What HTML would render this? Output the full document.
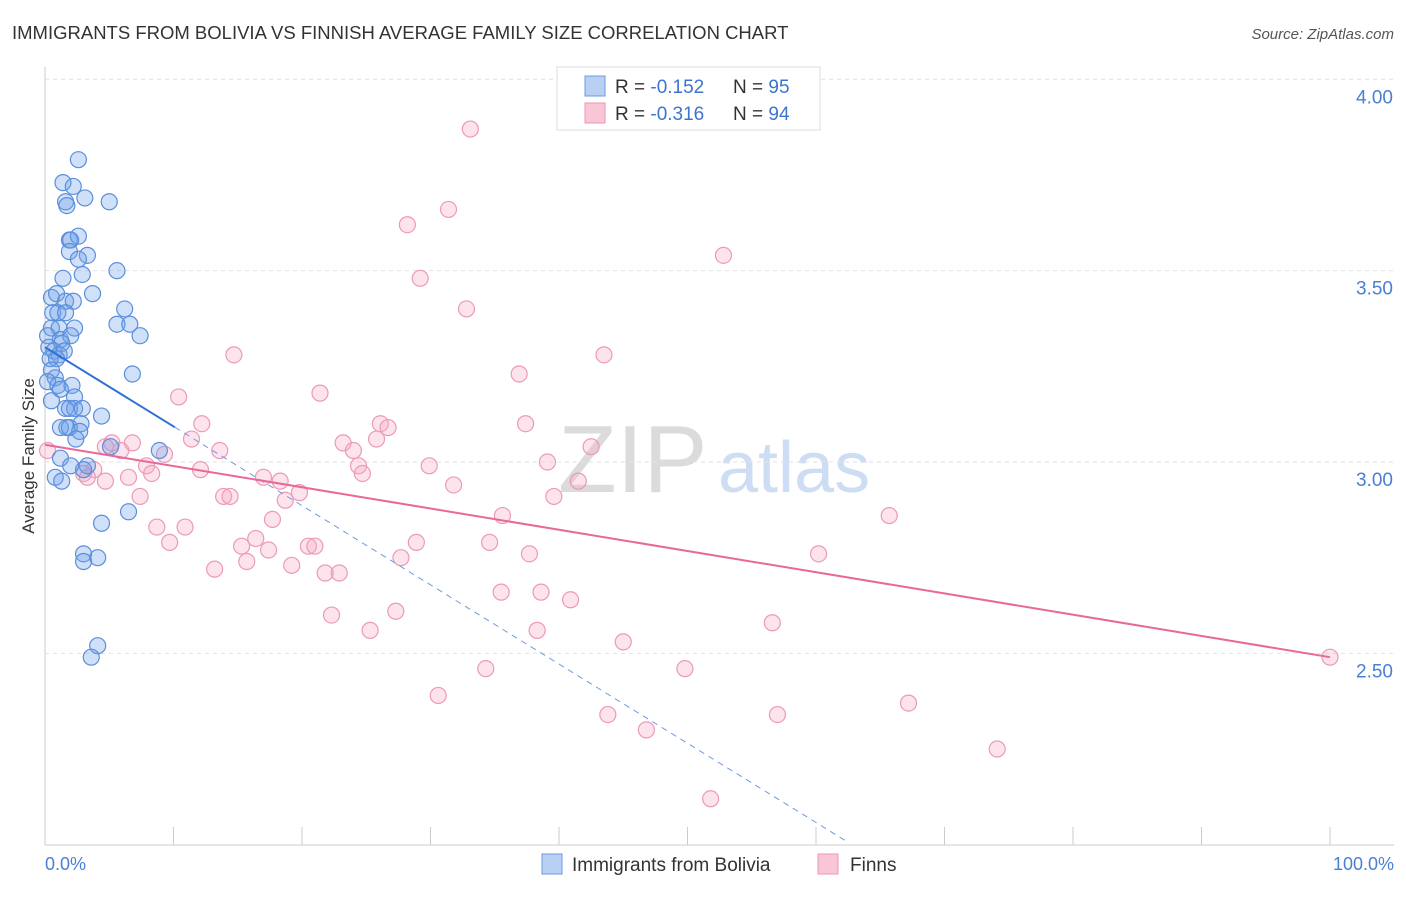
<!DOCTYPE html>
<html><head><meta charset="utf-8"><style>
body{margin:0;background:#fff;font-family:"Liberation Sans",sans-serif;}
svg text{font-family:"Liberation Sans",sans-serif;}
</style></head><body>
<svg id="chart" width="1406" height="892" viewBox="0 0 1406 892">
<text x="12" y="39" font-size="18.5" fill="#333">IMMIGRANTS FROM BOLIVIA VS FINNISH AVERAGE FAMILY SIZE CORRELATION CHART</text>
<text x="1394" y="39" font-size="15" fill="#555" text-anchor="end" font-style="italic">Source: ZipAtlas.com</text>
<g>
<text x="558" y="492" font-size="96" fill="#cfcfcf" font-family="Liberation Serif,serif" opacity="0.75">ZIP</text>
<text x="718" y="492" font-size="72" fill="#b3cbee" opacity="0.65">atlas</text>
</g>
<g id="grid"></g>
<g id="marks"></g>
<text transform="translate(34,456) rotate(-90)" font-size="17" fill="#333" text-anchor="middle">Average Family Size</text>
<text x="45" y="870" font-size="18" fill="#4a7fd4">0.0%</text>
<text x="1394" y="870" font-size="18" fill="#4a7fd4" text-anchor="end">100.0%</text>
<g>
<rect x="557" y="67" width="263" height="63" fill="#fff" stroke="#ddd"/>
<rect x="585" y="76" width="20" height="20" fill="#b7d0f4" stroke="#6f9be0"/>
<rect x="585" y="103" width="20" height="20" fill="#f9c6d6" stroke="#ec96b4"/>
<text x="615" y="93" font-size="19" fill="#333">R = <tspan fill="#3d74d0">-0.152</tspan></text>
<text x="733" y="93" font-size="19" fill="#333">N = <tspan fill="#3d74d0">95</tspan></text>
<text x="615" y="120" font-size="19" fill="#333">R = <tspan fill="#3d74d0">-0.316</tspan></text>
<text x="733" y="120" font-size="19" fill="#333">N = <tspan fill="#3d74d0">94</tspan></text>
</g>
<g>
<rect x="542" y="854" width="20" height="20" fill="#b7d0f4" stroke="#6f9be0"/>
<text x="572" y="871" font-size="19" fill="#333">Immigrants from Bolivia</text>
<rect x="818" y="854" width="20" height="20" fill="#f9c6d6" stroke="#ec96b4"/>
<text x="850" y="871" font-size="19" fill="#333">Finns</text>
</g>
</svg>
<script>
const yTicks=[2.5,3.0,3.5,4.0];
const yTickLabels=["2.50","3.00","3.50","4.00"];
const xTicks=[0,10,20,30,40,50,60,70,80,90,100];
const blueX=[2.6,1.4,2.2,3.1,1.6,1.7,5.0,1.9,2.0,2.6,3.3,1.9,2.6,5.6,1.4,2.9,3.7,0.5,0.9,1.6,2.2,6.2,0.6,1.0,1.6,5.6,6.6,0.5,1.1,2.3,0.2,1.2,2.0,7.4,1.3,0.3,0.7,1.1,1.5,0.4,0.9,6.8,0.5,0.8,0.2,1.0,2.1,1.2,0.5,2.3,1.6,2.3,1.9,2.9,4.4,1.2,1.7,1.9,2.8,2.7,5.1,2.4,8.9,1.2,2.0,3.3,3.0,0.8,1.3,4.4,6.5,3.0,4.1,3.0,4.1,3.6];
const blueY=[3.79,3.73,3.72,3.69,3.68,3.67,3.68,3.58,3.58,3.59,3.54,3.55,3.53,3.50,3.48,3.49,3.44,3.43,3.44,3.42,3.42,3.40,3.39,3.39,3.39,3.36,3.36,3.35,3.35,3.35,3.33,3.32,3.33,3.33,3.31,3.30,3.29,3.28,3.29,3.27,3.27,3.23,3.24,3.22,3.21,3.20,3.20,3.19,3.16,3.17,3.14,3.14,3.14,3.14,3.12,3.09,3.09,3.09,3.10,3.08,3.04,3.06,3.03,3.01,2.99,2.99,2.98,2.96,2.95,2.84,2.87,2.76,2.75,2.74,2.52,2.49];
const pinkX=[33.1,28.2,31.4,52.8,29.2,32.8,14.7,43.5,36.9,21.4,10.4,12.2,26.1,26.7,37.4,23.2,25.8,42.5,4.7,6.8,5.9,5.2,0.2,11.4,13.6,24.0,24.4,29.9,39.1,9.3,7.9,8.3,3.8,3.0,3.3,12.1,24.7,17.0,18.3,31.8,41.5,4.7,6.5,19.8,13.9,14.4,18.7,7.4,39.6,35.6,17.7,65.7,8.7,10.9,9.7,15.3,16.4,17.4,20.5,21.0,34.6,28.9,27.7,37.7,60.2,13.2,15.7,19.2,21.8,22.9,35.5,38.6,40.9,22.3,27.3,56.6,25.3,38.3,45.0,34.3,49.8,30.6,67.2,43.8,57.0,46.8,74.1,51.8,100];
const pinkY=[3.87,3.62,3.66,3.54,3.48,3.40,3.28,3.28,3.23,3.18,3.17,3.10,3.10,3.09,3.10,3.05,3.06,3.04,3.04,3.05,3.03,3.05,3.03,3.06,3.03,3.03,2.99,2.99,3.00,3.02,2.99,2.97,2.98,2.97,2.96,2.98,2.97,2.96,2.95,2.94,2.95,2.95,2.96,2.92,2.91,2.91,2.90,2.91,2.91,2.86,2.85,2.86,2.83,2.83,2.79,2.78,2.80,2.77,2.78,2.78,2.79,2.79,2.75,2.76,2.76,2.72,2.74,2.73,2.71,2.71,2.66,2.66,2.64,2.60,2.61,2.58,2.56,2.56,2.53,2.46,2.46,2.39,2.37,2.34,2.34,2.30,2.25,2.12,2.49];
const blueTrend=[3.30,-0.0207];
const pinkTrend=[3.045,-0.00555];
const X0=45,X1=1330,PT=62,PB=845;
const sx=v=>X0+(X1-X0)*v/100;
const sy=v=>462-(v-3)*382.7;
const NS="http://www.w3.org/2000/svg";
const grid=document.getElementById('grid'),marks=document.getElementById('marks');
function mk(tag,attrs,parent){const e=document.createElementNS(NS,tag);for(const k in attrs)e.setAttribute(k,attrs[k]);parent.appendChild(e);return e;}
let ax=mk('line',{x1:X0,y1:PT+5,x2:X0,y2:PB,stroke:'#ccc'},grid);


let bx=mk('line',{x1:X0,y1:PB,x2:1394,y2:PB,stroke:'#ccc'},grid);


yTicks.forEach((t,i)=>{
 const g=mk('line',{x1:X0,y1:sy(t),x2:1394,y2:sy(t),stroke:'#e2e2e2','stroke-dasharray':'4,4'},grid);
 
 
 const l=mk('text',{x:1393,y:sy(t)+24,'font-size':19,fill:'#4a7fd4','text-anchor':'end'},grid);
 l.textContent=yTickLabels[i];
 
 
});
xTicks.forEach(t=>{
 const l=mk('line',{x1:sx(t),y1:PB-18,x2:sx(t),y2:PB,stroke:'#ccc'},grid);
 
 
});
function dots(xs,ys,fill,stroke,name){xs.forEach((x,i)=>{
 const c=mk('circle',{cx:sx(x),cy:sy(ys[i]),r:8,fill:fill,stroke:stroke,'stroke-width':1.2},marks);
 
 
});}
dots(pinkX,pinkY,'rgba(246,170,196,0.33)','#eb9ab7','finns-point');
dots(blueX,blueY,'rgba(110,160,235,0.33)','#5b8fdc','bolivia-point');
const bs=mk('line',{x1:sx(0),y1:sy(blueTrend[0]),x2:sx(10.1),y2:sy(blueTrend[0]+blueTrend[1]*10.1),stroke:'#2f6fd6','stroke-width':2},marks);


const bd=mk('line',{x1:sx(10.1),y1:sy(blueTrend[0]+blueTrend[1]*10.1),x2:sx(62.3),y2:sy(blueTrend[0]+blueTrend[1]*62.3),stroke:'#6d9be0','stroke-width':1,'stroke-dasharray':'6,5'},marks);


const pl=mk('line',{x1:sx(0),y1:sy(pinkTrend[0]),x2:sx(100),y2:sy(pinkTrend[0]+pinkTrend[1]*100),stroke:'#e8689a','stroke-width':2},marks);


</script>
</body></html>
